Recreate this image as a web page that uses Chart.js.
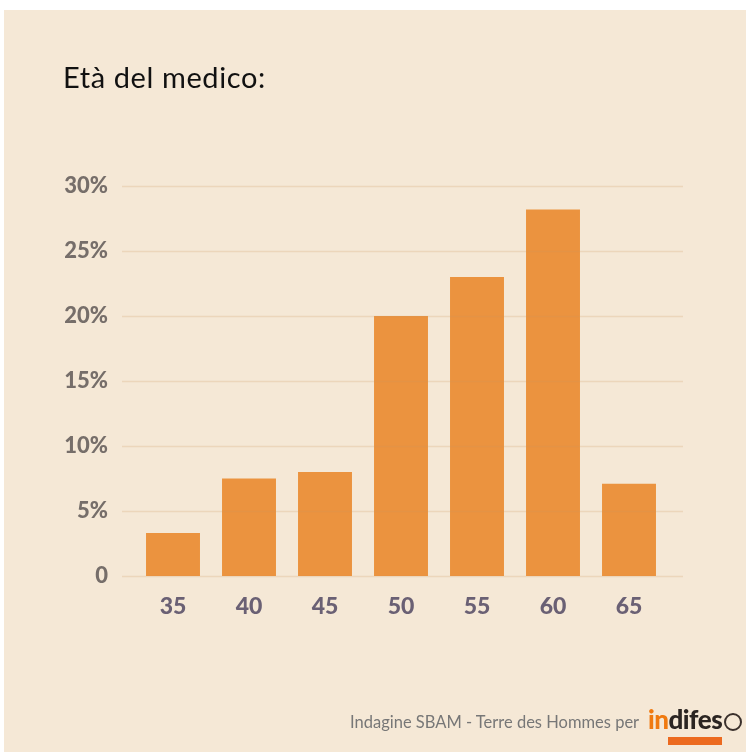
<!DOCTYPE html>
<html>
<head>
<meta charset="utf-8">
<script src="https://cdn.jsdelivr.net/npm/chart.js@4"></script>
<style>
  html, body { margin: 0; padding: 0; background: #fff; }
  #page { position: relative; width: 746px; height: 752px; overflow: hidden; }
  #panel { position: absolute; left: 4px; top: 10px; right: 0; bottom: 0; background: #f5e8d6; }
  #chartWrap { position: absolute; left: 0; top: 0; width: 746px; height: 752px; }
  #title { position: absolute; left: 63px; top: 59px; font-family: Lato, sans-serif; font-size: 29px; letter-spacing: 0.6px; color: #111; }
  #source { position: absolute; left: 350px; top: 712px; font-family: Lato, sans-serif; font-size: 16.5px; color: #777; }
  #logo { position: absolute; left: 648px; top: 703px; font-family: Lato, sans-serif; font-weight: 900; font-size: 26px; letter-spacing: -0.5px; }
  #logo .in { color: #f07a10; }
  #logo .rest { color: #2b2522; }
  #face { position: absolute; left: 724px; top: 713px; width: 14px; height: 14px; border: 2px solid #3a302c; border-radius: 50%; }
  #tag { position: absolute; left: 668px; top: 737px; width: 54px; height: 8px; background: #ec6a1f; }
</style>
</head>
<body>
<div id="page">
  <div id="panel"></div>
  <div id="chartWrap"><canvas id="ageChart" width="746" height="752"></canvas></div>
  <div id="title">Età del medico:</div>
  <div id="source">Indagine SBAM - Terre des Hommes per</div>
  <div id="logo"><span class="in">in</span><span class="rest">difes</span></div>
  <div id="face"></div>
  <div id="tag"></div>
</div>
<script>
const ages = ['35', '40', '45', '50', '55', '60', '65'];
const percentages = [3.3, 7.5, 8.0, 20.0, 23.0, 28.2, 7.1];
const yTickLabels = ['0', '5%', '10%', '15%', '20%', '25%', '30%'];

// grid lines run a bit past the bars on both sides, drawn over the bars
const gridOverlay = {
  id: 'gridOverlay',
  afterDatasetsDraw(chart) {
    const ctx = chart.ctx;
    const y = chart.scales.y;
    const area = chart.chartArea;
    ctx.save();
    ctx.strokeStyle = 'rgba(205, 150, 90, 0.22)';
    ctx.lineWidth = 1.5;
    y.ticks.forEach(t => {
      const py = Math.round(y.getPixelForValue(t.value)) + 0.5;
      ctx.beginPath();
      ctx.moveTo(area.left - 13, py);
      ctx.lineTo(area.right + 16, py);
      ctx.stroke();
    });
    ctx.restore();
  }
};

const ctx = document.getElementById('ageChart').getContext('2d');
new Chart(ctx, {
  type: 'bar',
  data: {
    labels: ages,
    datasets: [{
      data: percentages,
      backgroundColor: '#eb933f',
      borderWidth: 0,
      categoryPercentage: 1,
      barPercentage: 0.71
    }]
  },
  options: {
    responsive: false,
    animation: false,
    layout: { padding: { top: 186, right: 79, bottom: 126, left: 0 } },
    plugins: { legend: { display: false }, tooltip: { enabled: false } },
    scales: {
      x: {
        grid: { display: false, drawTicks: false },
        border: { display: false },
        afterFit: s => { s.height = 50; },
        ticks: {
          padding: 17,
          color: '#6a6074',
          font: { family: 'Lato', size: 23, weight: '900' }
        }
      },
      y: {
        min: 0,
        max: 30,
        grid: { display: false, drawTicks: false },
        border: { display: false },
        afterFit: s => { s.width = 135; },
        ticks: {
          stepSize: 5,
          padding: 27,
          color: '#766e6a',
          font: { family: 'Lato', size: 22, weight: '900' },
          callback: (v, i) => yTickLabels[i]
        }
      }
    }
  },
  plugins: [gridOverlay]
});
</script>
</body>
</html>
